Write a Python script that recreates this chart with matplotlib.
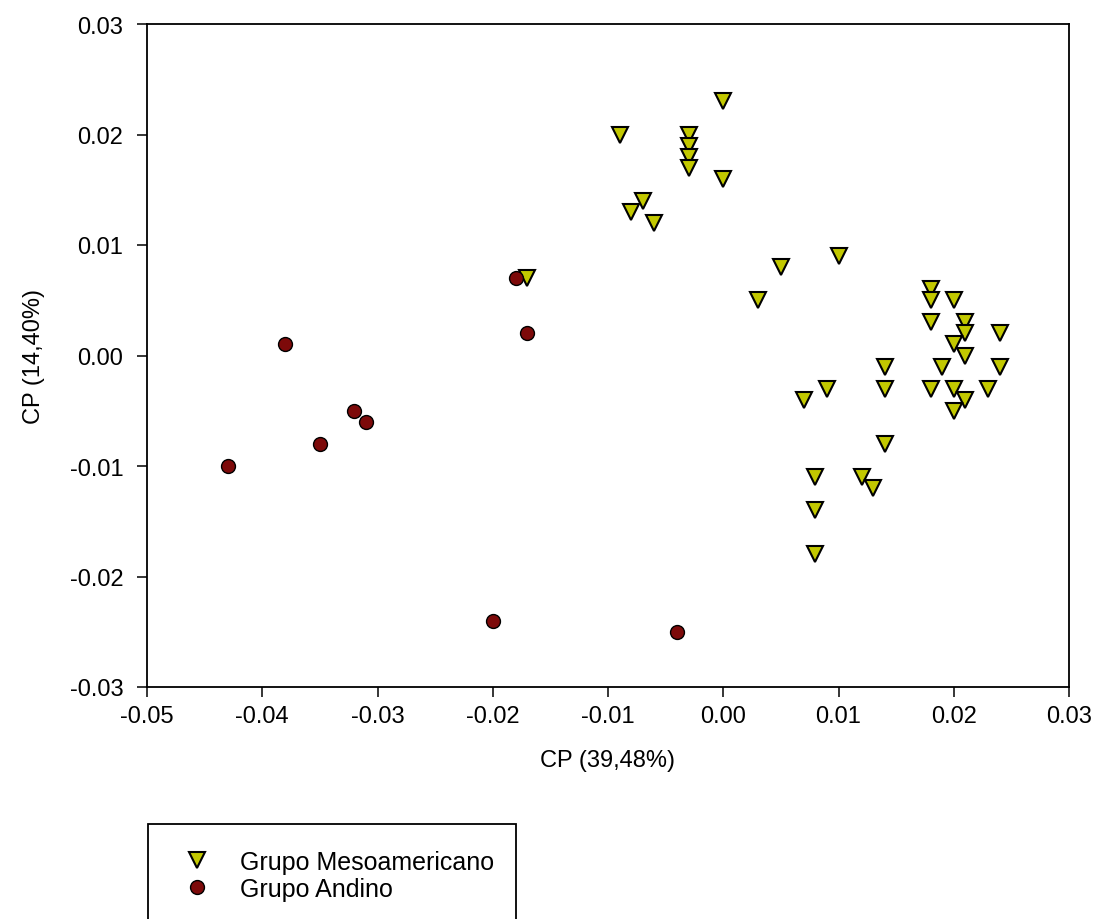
import matplotlib
matplotlib.use('Agg')
import matplotlib.pyplot as plt
from matplotlib.patches import Rectangle
from matplotlib.ticker import FormatStrFormatter

plt.rcParams['font.family'] = ['Liberation Sans', 'DejaVu Sans']

# Grupo Mesoamericano (CP1, CP2)
meso_x = [-0.009, -0.003, -0.003, -0.003, -0.003, 0.000, 0.000, -0.008, -0.007, -0.006,
          -0.017, 0.003, 0.005, 0.010,
          0.018, 0.018, 0.020, 0.018, 0.021, 0.021, 0.020, 0.024, 0.021, 0.019,
          0.024, 0.014, 0.014, 0.009, 0.007, 0.018, 0.020, 0.023, 0.021, 0.020,
          0.014, 0.008, 0.012, 0.013, 0.008, 0.008]
meso_y = [0.020, 0.020, 0.019, 0.018, 0.017, 0.023, 0.016, 0.013, 0.014, 0.012,
          0.007, 0.005, 0.008, 0.009,
          0.006, 0.005, 0.005, 0.003, 0.003, 0.002, 0.001, 0.002, 0.000, -0.001,
          -0.001, -0.001, -0.003, -0.003, -0.004, -0.003, -0.003, -0.003, -0.004, -0.005,
          -0.008, -0.011, -0.011, -0.012, -0.014, -0.018]

# Grupo Andino
andino_x = [-0.043, -0.038, -0.035, -0.032, -0.031, -0.018, -0.017, -0.020, -0.004]
andino_y = [-0.010, 0.001, -0.008, -0.005, -0.006, 0.007, 0.002, -0.024, -0.025]

x_ticks = [-0.05, -0.04, -0.03, -0.02, -0.01, 0.00, 0.01, 0.02, 0.03]
y_ticks = [-0.03, -0.02, -0.01, 0.00, 0.01, 0.02, 0.03]

fig = plt.figure(figsize=(10.98, 9.2), dpi=100)
ax = fig.add_axes([147 / 1098, 1 - 688 / 920, (1069 - 147) / 1098, (688 - 25) / 920])

ax.plot(meso_x, meso_y, linestyle='none', marker='v', markersize=12,
        markerfacecolor='#c2c800', markeredgecolor='black', markeredgewidth=1.5,
        label='Grupo Mesoamericano')
ax.plot(andino_x, andino_y, linestyle='none', marker='o', markersize=10,
        markerfacecolor='#7d0a0a', markeredgecolor='black', markeredgewidth=1.0,
        label='Grupo Andino')

ax.set_xlim(-0.05, 0.03)
ax.set_ylim(-0.03, 0.03)
ax.set_xticks(x_ticks)
ax.set_yticks(y_ticks)
ax.xaxis.set_major_formatter(FormatStrFormatter('%.2f'))
ax.yaxis.set_major_formatter(FormatStrFormatter('%.2f'))
ax.tick_params(direction='out', length=7, width=1.1, labelsize=17)
ax.tick_params(axis='x', pad=6)
ax.tick_params(axis='y', pad=10)
for s in ax.spines.values():
    s.set_linewidth(1.3)

ax.set_xlabel('CP (39,48%)', fontsize=17, labelpad=16)
ax.set_ylabel('CP (14,40%)', fontsize=17, labelpad=18)

# legend box runs off the bottom of the figure
fig.patches.append(Rectangle((148 / 1098, -0.05), (516 - 148) / 1098, 1 - 825 / 920 + 0.05,
                             transform=fig.transFigure, fill=False, edgecolor='black',
                             linewidth=1.3))
fig.legend(loc='upper left', bbox_to_anchor=(172 / 1098, 1 - 851 / 920), frameon=False,
           fontsize=18, handlelength=2.0, handletextpad=0.72, labelspacing=0.12,
           borderaxespad=0, borderpad=0)

fig.savefig('out.png', dpi=100)
